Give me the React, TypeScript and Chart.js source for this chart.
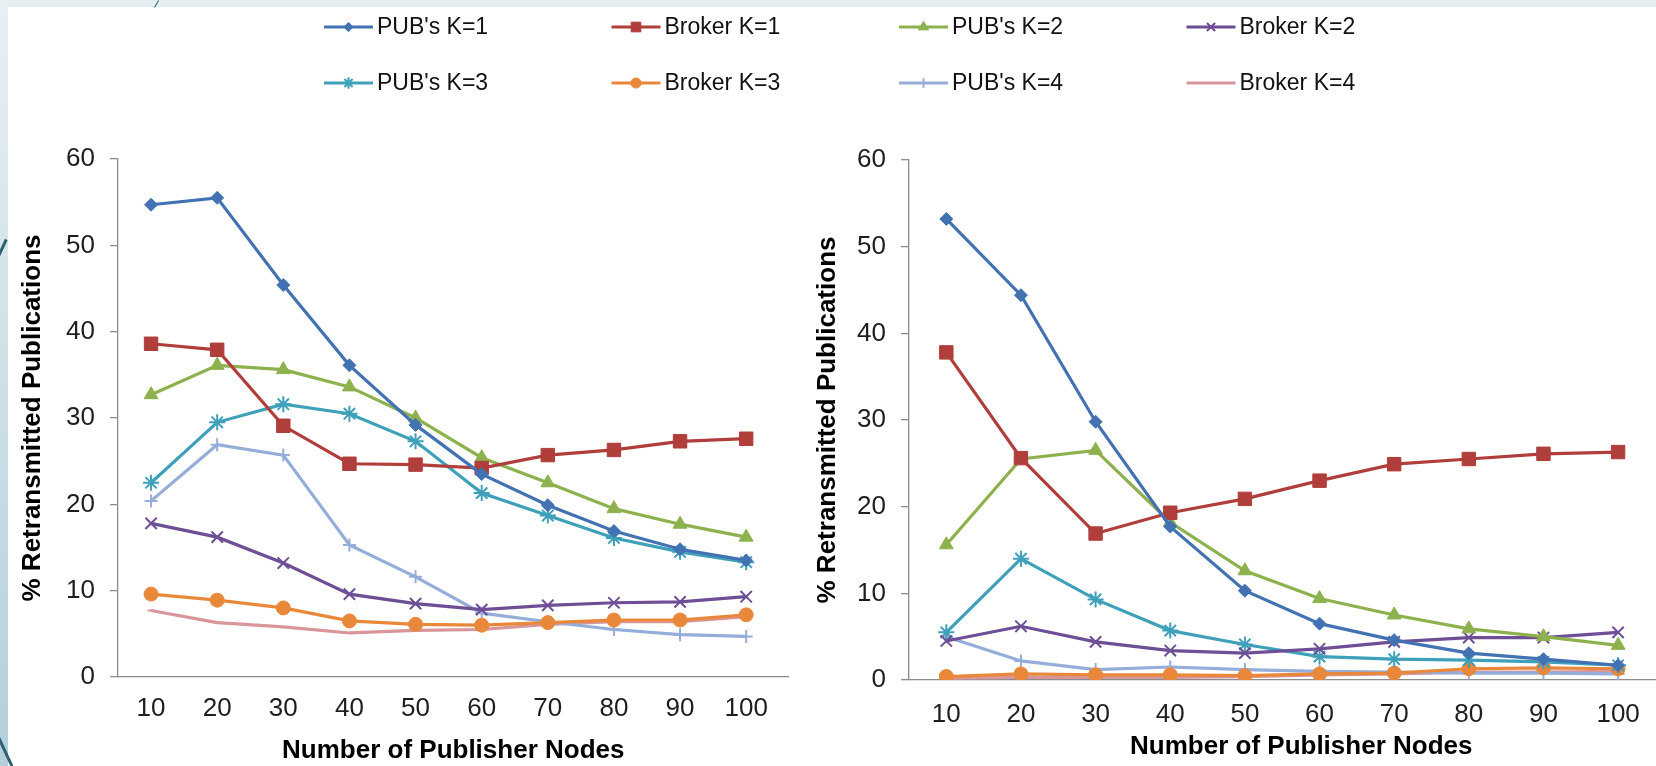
import React, { useEffect, useRef } from 'react';
import { Chart, registerables } from 'chart.js';
import { drawPoint } from 'chart.js/helpers';

Chart.register(...registerables);

// ---------- data ----------
const nodes = [10, 20, 30, 40, 50, 60, 70, 80, 90, 100];
const seriesNames = ["PUB's K=1", 'Broker K=1', "PUB's K=2", 'Broker K=2', "PUB's K=3", 'Broker K=3', "PUB's K=4", 'Broker K=4'];
const yTicks = [0, 10, 20, 30, 40, 50, 60];
const xTitle = 'Number of Publisher Nodes';
const yTitle = '% Retransmitted Publications';

// left panel
const leftPubK1 = [54.7, 55.5, 45.4, 36.1, 29.2, 23.5, 19.9, 16.9, 14.8, 13.5];
const leftBrokerK1 = [38.6, 37.9, 29.1, 24.7, 24.6, 24.2, 25.7, 26.3, 27.3, 27.6];
const leftPubK2 = [32.7, 36.1, 35.6, 33.6, 30.0, 25.4, 22.5, 19.5, 17.7, 16.2];
const leftBrokerK2 = [17.8, 16.2, 13.2, 9.6, 8.5, 7.8, 8.3, 8.6, 8.7, 9.3];
const leftPubK3 = [22.5, 29.5, 31.6, 30.5, 27.3, 21.3, 18.7, 16.1, 14.5, 13.3];
const leftBrokerK3 = [9.6, 8.9, 8.0, 6.5, 6.1, 6.0, 6.3, 6.6, 6.6, 7.2];
const leftPubK4 = [20.4, 26.9, 25.7, 15.3, 11.6, 7.4, 6.4, 5.5, 4.9, 4.7];
const leftBrokerK4 = [7.7, 6.3, 5.8, 5.1, 5.4, 5.5, 6.1, 6.4, 6.4, 7.0];

// right panel
const rightPubK1 = [53.2, 44.4, 29.8, 17.7, 10.3, 6.5, 4.6, 3.1, 2.4, 1.7];
const rightBrokerK1 = [37.8, 25.6, 16.9, 19.3, 20.9, 23.0, 24.9, 25.5, 26.1, 26.3];
const rightPubK2 = [15.6, 25.5, 26.5, 18.2, 12.6, 9.4, 7.5, 5.9, 5.0, 4.0];
const rightBrokerK2 = [4.5, 6.2, 4.4, 3.4, 3.1, 3.6, 4.4, 4.9, 4.9, 5.5];
const rightPubK3 = [5.5, 14.0, 9.3, 5.7, 4.1, 2.7, 2.4, 2.3, 2.1, 1.7];
const rightBrokerK3 = [0.4, 0.7, 0.6, 0.6, 0.5, 0.7, 0.8, 1.3, 1.4, 1.3];
const rightPubK4 = [5.0, 2.2, 1.2, 1.5, 1.2, 1.0, 0.9, 0.8, 0.8, 0.7];
const rightBrokerK4 = [0.2, 0.3, 0.3, 0.3, 0.4, 0.6, 0.7, 0.9, 0.9, 1.0];

const leftSeries = [leftPubK1, leftBrokerK1, leftPubK2, leftBrokerK2, leftPubK3, leftBrokerK3, leftPubK4, leftBrokerK4];
const rightSeries = [rightPubK1, rightBrokerK1, rightPubK2, rightBrokerK2, rightPubK3, rightBrokerK3, rightPubK4, rightBrokerK4];

// ---------- styles ----------
const FONT = '"Liberation Sans", Arial, Helvetica, sans-serif';
const AXIS = '#8c8c8c';
const TICK = '#1e1e1e';
const styles = [
  { color: '#4372b2', point: 'rectRot', r: 6.5, pbw: 1 },
  { color: '#b03e3b', point: 'rect', r: 9.5, pbw: 1 },
  { color: '#8db14d', point: 'triangle', r: 8, pbw: 1 },
  { color: '#6e4f95', point: 'crossRot', r: 8, pbw: 2 },
  { color: '#3fa0ba', point: 'star', r: 8, pbw: 2 },
  { color: '#e9883b', point: 'circle', r: 7, pbw: 1 },
  { color: '#95add9', point: 'cross', r: 6.5, pbw: 2 },
  { color: '#d8959a', point: 'line', r: 3.5, pbw: 2 },
];

function makeDatasets(series: number[][]) {
  return series.map((vals, i) => ({
    label: seriesNames[i],
    data: nodes.map((n, j) => ({ x: n, y: vals[j] })),
    borderColor: styles[i].color,
    backgroundColor: styles[i].color,
    pointBackgroundColor: styles[i].color,
    pointBorderColor: styles[i].color,
    pointStyle: styles[i].point,
    pointRadius: styles[i].r,
    pointBorderWidth: styles[i].pbw,
    borderWidth: 3.2,
    tension: 0,
    fill: false,
  }));
}

type PanelCfg = { top: number; xh: number; yw: number; xmin: number; xmax: number; xpad: number; xtb: number; ytp: number };

function panelOptions(c: PanelCfg): any {
  return {
    responsive: false,
    animation: false,
    events: [],
    layout: { padding: { left: 0, top: c.top, right: 0, bottom: 0 } },
    plugins: { legend: { display: false }, tooltip: { enabled: false } },
    scales: {
      x: {
        type: 'linear',
        min: c.xmin,
        max: c.xmax,
        afterBuildTicks: (s: any) => {
          s.ticks = nodes.map((v) => ({ value: v }));
        },
        afterFit: (s: any) => {
          s.height = c.xh;
        },
        grid: { display: false, drawTicks: false },
        border: { display: true, color: AXIS, width: 1.3 },
        ticks: { font: { family: FONT, size: 26 }, color: TICK, padding: c.xpad, maxRotation: 0, autoSkip: false },
        title: {
          display: true,
          text: xTitle,
          color: '#000',
          font: { family: FONT, size: 26, weight: 'bold' },
          padding: { top: 0, bottom: c.xtb },
        },
      },
      y: {
        type: 'linear',
        min: yTicks[0],
        max: yTicks[yTicks.length - 1],
        afterBuildTicks: (s: any) => {
          s.ticks = yTicks.map((v) => ({ value: v }));
        },
        afterFit: (s: any) => {
          s.width = c.yw;
        },
        grid: { display: true, drawOnChartArea: false, drawTicks: true, tickLength: 8, color: AXIS, lineWidth: 1.3 },
        border: { display: true, color: AXIS, width: 1.3 },
        ticks: { font: { family: FONT, size: 26 }, color: TICK, padding: 15 },
        title: {
          display: true,
          text: yTitle,
          color: '#000',
          font: { family: FONT, size: 26, weight: 'bold' },
          padding: { top: c.ytp, bottom: 0 },
        },
      },
    },
  };
}

const legendPlugin = {
  id: 'rowLegend',
  afterDraw(chart: any) {
    const ctx = chart.ctx;
    ctx.save();
    seriesNames.forEach((name, i) => {
      const st = styles[i];
      const col = i % 4;
      const row = Math.floor(i / 4);
      const x0 = 324 + col * 287.5;
      const yc = 27 + row * 56;
      ctx.strokeStyle = st.color;
      ctx.fillStyle = st.color;
      ctx.lineWidth = 3;
      ctx.beginPath();
      ctx.moveTo(x0, yc);
      ctx.lineTo(x0 + 49, yc);
      ctx.stroke();
      ctx.lineWidth = st.pbw;
      drawPoint(ctx, { pointStyle: st.point, rotation: 0, radius: st.r * 0.72, borderWidth: st.pbw }, x0 + 24.5, yc);
      ctx.fillStyle = '#111';
      ctx.font = `23px ${FONT}`;
      ctx.textBaseline = 'middle';
      ctx.textAlign = 'left';
      ctx.fillText(name, x0 + 53, yc + 1);
    });
    ctx.restore();
  },
};

export default function App() {
  const legendRef = useRef<HTMLCanvasElement | null>(null);
  const leftRef = useRef<HTMLCanvasElement | null>(null);
  const rightRef = useRef<HTMLCanvasElement | null>(null);

  useEffect(() => {
    document.body.style.margin = '0';
    document.body.style.overflow = 'hidden';

    const legend = new Chart(legendRef.current as HTMLCanvasElement, {
      type: 'line',
      data: { datasets: makeDatasets(leftSeries).map((d) => ({ ...d, data: [] })) },
      options: {
        responsive: false,
        animation: false,
        events: [],
        plugins: { legend: { display: false }, tooltip: { enabled: false } },
        scales: { x: { display: false, type: 'linear' }, y: { display: false } },
      } as any,
      plugins: [legendPlugin],
    });

    const left = new Chart(leftRef.current as HTMLCanvasElement, {
      type: 'line',
      data: { datasets: makeDatasets(leftSeries) as any },
      options: panelOptions({ top: 159, xh: 89, yw: 118, xmin: 5, xmax: 106.4, xpad: 16, xtb: 0, ytp: 17.5 }),
    });

    const right = new Chart(rightRef.current as HTMLCanvasElement, {
      type: 'line',
      data: { datasets: makeDatasets(rightSeries) as any },
      options: panelOptions({ top: 160, xh: 86, yw: 119, xmin: 5, xmax: 110.1, xpad: 19, xtb: 4, ytp: 22 }),
    });

    return () => {
      legend.destroy();
      left.destroy();
      right.destroy();
    };
  }, []);

  const abs: React.CSSProperties = { position: 'absolute' };
  return (
    <div style={{ position: 'relative', width: 1656, height: 766, overflow: 'hidden', background: '#e4edf1' }}>
      <div style={{ ...abs, left: 0, top: 0, width: 8, height: 766, background: 'linear-gradient(#e7f0f3, #b3cfda)' }} />
      <div style={{ ...abs, left: 8, top: 7, right: 0, bottom: 0, background: '#ffffff' }} />
      <div style={{ ...abs, left: -2, top: 238, width: 3, height: 32, background: '#2f5f73', transform: 'rotate(25deg)' }} />
      <div style={{ ...abs, left: 2, top: 728, width: 3, height: 40, background: '#2f5f73', transform: 'rotate(-25deg)' }} />
      <div style={{ ...abs, left: 156, top: 0, width: 1, height: 8, background: '#2f5f73', transform: 'rotate(30deg)' }} />
      <canvas ref={rightRef} width={914} height={766} style={{ ...abs, left: 790, top: 0 }} />
      <canvas ref={leftRef} width={799} height={766} style={{ ...abs, left: 0, top: 0 }} />
      <canvas ref={legendRef} width={1656} height={120} style={{ ...abs, left: 0, top: 0 }} />
    </div>
  );
}
